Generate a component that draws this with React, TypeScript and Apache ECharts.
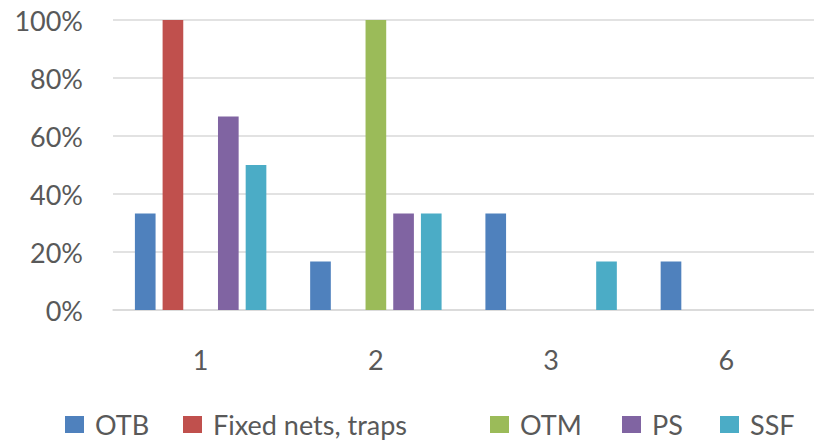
import React, { useEffect, useRef } from "react";
import * as echarts from "echarts";

const categories = ["1", "2", "3", "6"];
const seriesNames = ["OTB", "Fixed nets, traps", "OTM", "PS", "SSF"];
const otb = [33.3, 16.7, 33.3, 16.7];
const fixedNets = [100, 0, 0, 0];
const otm = [0, 100, 0, 0];
const ps = [66.7, 33.3, 0, 0];
const ssf = [50, 33.3, 16.7, 0];
const colors = ["#4F81BD", "#C0504D", "#9BBB59", "#8064A2", "#4BACC6"];
const yTicks = [0, 20, 40, 60, 80, 100];
const legendLefts = [65, 183, 490, 622, 720];

export default function App() {
  const ref = useRef<HTMLDivElement>(null);
  useEffect(() => {
    if (!ref.current) return;
    const chart = echarts.init(ref.current, null, { renderer: "svg" });
    const values = [otb, fixedNets, otm, ps, ssf];
    const font = "Lato";
    chart.setOption({
      animation: false,
      backgroundColor: "#ffffff",
      grid: { left: 113, right: 0, top: 20, bottom: 132, containLabel: false },
      legend: seriesNames.map((name, i) => ({
        data: [name],
        left: legendLefts[i],
        top: 411,
        padding: 0,
        itemWidth: 19,
        itemHeight: 17,
        icon: "rect",
        textStyle: {
          fontFamily: font,
          fontSize: 27,
          lineHeight: 26,
          color: "#595959",
          padding: [0, 0, 0, 6],
        },
      })),
      xAxis: {
        type: "category",
        data: categories,
        axisTick: { show: false },
        axisLine: { lineStyle: { color: "#d9d9d9", width: 1.5 } },
        axisLabel: { fontFamily: font, fontSize: 27, color: "#595959", margin: 36 },
      },
      yAxis: {
        type: "value",
        min: 0,
        max: 100,
        interval: 20,
        axisLine: { show: false },
        axisTick: { show: false },
        splitLine: { lineStyle: { color: "#d9d9d9", width: 1.5 } },
        axisLabel: {
          fontFamily: font,
          fontSize: 27,
          color: "#595959",
          margin: 30,
          formatter: (v: number) => (yTicks.includes(v) ? v + "%" : ""),
        },
      },
      series: seriesNames.map((name, i) => ({
        name,
        type: "bar",
        data: values[i],
        barGap: "34%",
        barCategoryGap: "25%",
        itemStyle: { color: colors[i] },
      })),
    });
    return () => chart.dispose();
  }, []);
  return <div ref={ref} style={{ width: 814, height: 442, position: "absolute", left: 0, top: 0 }} />;
}
